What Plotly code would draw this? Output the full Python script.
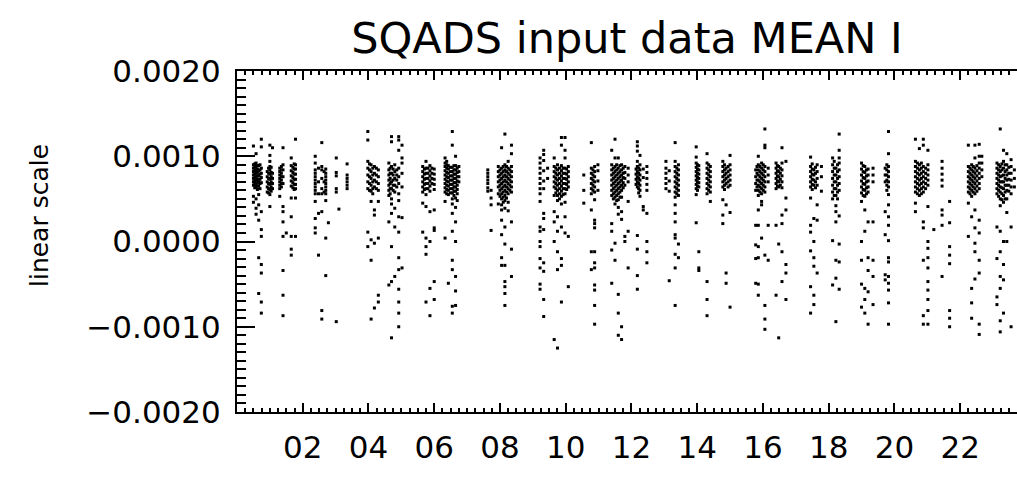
import plotly.graph_objects as go

# SQADS MEAN I, values in units of 1e-4, grouped in vertical strips (hour, values)
strips_00_04 = [
    (0.50, [11.2, 9.0, 8.6, 8.2, 7.8, 7.4, 7.0, 6.6, 5.3, 4.6]),
    (0.54, [9.1, 8.7, 8.3, 7.9, 7.5, 7.1, 6.7, 6.3]),
    (0.58, [10.3, 9.2, 8.8, 8.4, 8.0, 7.6, 7.2, 6.8, 6.4, 5.0, 3.9, 3.2]),
    (0.62, [8.9, 8.5, 8.1, 7.7, 7.3, 6.9, 6.5, 6.1]),
    (0.66, [8.9, 8.3, 7.7, 7.1, 6.5, 5.5, 4.3, 2.5, -1.9, -6.1]),
    (0.70, [9.0, 8.4, 7.9, 7.3, 6.8, 6.2]),
    (0.74, [12.0, 11.1, 8.6, 8.0, 7.5, 6.9, 3.5, 1.4, 0.6, -2.7, -3.7, -7.1, -8.4]),
    (0.92, [8.2, 7.6, 7.0, 6.4, 5.8]),
    (0.96, [8.6, 8.0, 7.4, 6.8, 6.2, 5.7]),
    (1.00, [11.3, 10.1, 9.4, 8.8, 8.4, 7.9, 7.3, 6.7, 6.1, 5.5, 4.1]),
    (1.04, [8.7, 8.1, 7.6, 7.0, 6.4, 5.9]),
    (1.08, [11.0, 8.0, 7.4, 6.8, 6.2]),
    (1.30, [8.6, 8.2, 7.8, 7.4, 7.0, 6.6, 6.2, 5.3]),
    (1.35, [8.8, 8.4, 8.0, 7.6, 7.2, 6.8, 6.4]),
    (1.40, [11.0, 9.0, 8.4, 7.6, 6.8, 4.1, 3.5, 2.3, 0.6, -3.4, -6.3, -8.7]),
    (1.50, [1.0]),
    (1.65, [9.8, 8.9, 8.3, 7.7, 7.1, 6.5, 5.1, 2.9, 0.6, -0.9, -1.6]),
    (1.70, [8.7, 8.1, 7.5, 6.9, 6.3]),
    (1.74, [9.1, 8.5, 7.9, 7.3, 6.7, 6.1]),
    (1.78, [12.0, 9.0, 8.5, 7.9, 7.3, 6.7, 6.2, 5.1, 0.6]),
    (2.38, [10.0, 9.2, 8.4, 8.0, 7.6, 7.2, 6.8, 6.4, 6.0, 5.6, 4.7, 2.7, 1.6, 1.0]),
    (2.48, [8.6, 7.0, 5.6, 3.3, -1.6]),
    (2.58, [11.6, 8.8, 8.4, 7.4, 6.2, 5.6, 3.5, -8.1, -9.1]),
    (2.65, [8.2, 7.0, 5.8]),
    (2.70, [8.5, 8.0, 7.6, 7.2, 6.8, 6.4, 6.0, 5.6, 4.8, 0.4, -4.0]),
    (2.78, [2.2]),
    (3.02, [9.8, 8.1, 7.7, 6.2, 5.8, -9.4]),
    (3.10, [3.8]),
    (3.35, [9.1, 7.8, 7.4, 7.0, 6.6, 6.2]),
    (3.98, [12.9, 11.9, 9.4, 8.6, 7.8, 7.0, 6.2, 1.1, -0.6]),
]

strips_04_08 = [
    (4.03, [9.1, 8.4, 7.6, 6.8, 6.0]),
    (4.08, [9.0, 8.2, 7.4, 6.6, 5.9, 4.7, 0.2, -2.2, -9.1]),
    (4.13, [8.6, 7.8, 7.0, 6.2, 5.6]),
    (4.18, [8.8, 8.0, 7.2, 6.4, 3.7, 3.1, -0.2, -7.8]),
    (4.24, [8.6, 7.8, 7.0, 6.2]),
    (4.30, [8.4, 7.6, 6.8, 6.0, 4.7, 0.4, -6.3, -7.1]),
    (4.62, [9.2, 8.4, 7.8, 7.2, 6.6, 6.0, 5.4, 2.3, -5.1]),
    (4.66, [8.6, 8.0, 7.4, 6.8, 6.2, 5.6]),
    (4.70, [12.3, 11.7, 8.8, 8.0, 7.0, 6.2, 5.0, 4.4, 3.3, -0.6, -4.7, -11.3]),
    (4.75, [8.5, 7.8, 7.2, 6.6, 6.0]),
    (4.80, [9.0, 8.2, 7.4, 6.6, 5.8, 3.9, 1.7, -4.1]),
    (4.86, [8.4, 7.8, 7.2, 6.4]),
    (4.92, [12.3, 11.9, 10.7, 8.6, 7.6, 6.8, 5.6, 4.8, 2.9, 1.1, -1.9, -3.3, -5.6, -7.1, -8.4, -10.0]),
    (5.02, [11.3, 9.8, 9.2, 8.0, 6.4, 2.8, -3.1]),
    (5.65, [8.8, 8.2, 7.6, 7.0, 6.4, 5.8, 4.5, 1.1]),
    (5.70, [8.5, 7.9, 7.3, 6.7, 6.1]),
    (5.75, [9.4, 8.6, 8.0, 7.4, 6.8, 6.2, 5.5, 4.1, 0.4, -0.6, -1.5, -7.1]),
    (5.81, [8.6, 8.0, 7.4, 6.8, 6.2]),
    (5.87, [8.9, 8.3, 7.7, 7.1, 6.5, 5.9, 3.5, 0.0, -5.5, -8.7]),
    (5.93, [8.6, 8.0, 7.4, 6.8]),
    (6.00, [8.5, 7.9, 7.3, 6.7, 6.1, 3.7, 1.6, 1.3, -4.7, -6.8]),
    (6.33, [9.8, 9.2, 8.8, 8.3, 7.8, 7.3, 6.8, 6.3, 5.8, 4.7, 0.4]),
    (6.38, [9.4, 9.0, 8.6, 8.1, 7.6, 7.1, 6.6, 6.1, 5.6]),
    (6.43, [8.9, 8.5, 8.0, 7.5, 7.0, 6.5, 6.0, 5.5, -4.9]),
    (6.49, [8.7, 8.2, 7.7, 7.2, 6.7, 6.2, 5.7]),
    (6.55, [12.9, 11.3, 8.7, 8.2, 7.7, 7.2, 6.7, 6.2, 5.7, 5.0, 4.4, 3.3, 1.2, -2.2, -3.3, -7.6, -8.4]),
    (6.60, [8.9, 8.4, 7.9, 7.4, 6.9, 6.4, 5.9, 5.4]),
    (6.65, [10.0, 8.9, 8.4, 7.9, 7.4, 6.9, 6.4, 5.9, 5.1, 4.0, 2.3, 0.0, -4.1, -5.8, -7.5]),
    (6.70, [8.6, 8.1, 7.6, 7.1, 6.6, 6.1, 5.6, 4.8]),
    (6.75, [8.8, 8.2, 7.6, 7.0]),
    (7.63, [8.4, 8.0, 7.6, 7.2, 6.8, 6.3, 5.9]),
    (7.73, [6.0, 5.1, 4.3, 1.3]),
    (7.95, [8.8, 8.2, 7.6, 7.0, 6.4, 5.6, 4.4]),
]

strips_08_12 = [
    (8.00, [8.4, 7.8, 7.2, 6.6, 6.0, 5.3]),
    (8.05, [11.0, 8.6, 8.0, 7.4, 6.8, 6.2, 5.6, 5.0, 4.3, 3.7, 2.5, 0.8, -1.9, -2.8]),
    (8.10, [8.8, 8.2, 7.6, 7.0, 6.4, 5.8, 5.2, 4.6]),
    (8.15, [12.6, 9.0, 8.4, 7.8, 7.2, 6.6, 6.0, 5.4, 4.8, 3.9, 1.7, -0.3, -2.8, -4.7, -5.3, -6.1, -7.5]),
    (8.20, [8.8, 8.2, 7.6, 7.0, 6.4, 5.8, 5.1]),
    (8.25, [9.4, 8.6, 8.0, 7.4, 6.8, 6.2, 5.6, 4.6, 3.6]),
    (8.30, [8.4, 7.8, 7.2, 6.6, 6.0]),
    (8.35, [11.3, 10.3, 8.8, 8.2, 7.6, 7.0, 6.4, 5.8, 2.3, -0.9, -4.1]),
    (9.22, [9.8, 9.2, 8.6, 8.0, 7.4, 6.8, 6.2, 5.6, 4.7, 1.7, 1.2, 0.0, -0.6, -2.0, -3.1, -5.0, -5.6]),
    (9.33, [10.7, 10.2, 9.5, 8.3, 7.1, 6.2, 3.3, 2.7, 1.4, -2.5, -3.5, -6.8, -8.8]),
    (9.45, [8.6, 7.4]),
    (9.65, [9.8, 8.8, 8.2, 7.6, 7.0, 6.4, 5.4, 3.5, 2.3, 0.0, -11.5]),
    (9.70, [8.6, 8.0, 7.4, 6.8, 6.2, 5.7]),
    (9.75, [9.0, 8.4, 7.8, 7.2, 6.6, 6.0, 5.4, 4.8, 2.9, 1.2, -1.2, -3.3, -12.5]),
    (9.81, [8.6, 8.0, 7.4, 6.8, 6.2, 5.6, 5.0]),
    (9.87, [12.2, 11.3, 8.9, 8.3, 7.7, 7.1, 6.5, 5.9, 5.3, 4.4, 1.7, -2.0, -2.8, -7.1]),
    (9.92, [8.6, 8.0, 7.4, 6.8, 6.2, 5.5]),
    (9.98, [12.2, 10.7, 9.8, 8.6, 8.0, 7.4, 6.8, 6.2, 5.6, 4.6, 2.9, 1.0]),
    (10.03, [8.5, 7.9, 7.3, 6.7, 6.1]),
    (10.08, [8.8, 8.2, 7.6, 7.0, 6.4, 0.6, -5.3]),
    (10.55, [7.8, 6.0, 4.5]),
    (10.78, [11.6, 8.6, 8.0, 7.4, 6.8, 6.2, 5.6, 3.7, -1.2, -3.3]),
    (10.83, [8.4, 7.8, 7.2, 6.6, 6.0]),
    (10.88, [8.8, 8.2, 7.6, 7.0, 6.4, 5.8, 4.9, 2.5, 2.1, 1.6, -1.2, -2.5, -3.1, -5.1, -5.7, -7.5, -9.7]),
    (10.98, [9.0, 8.3, 7.1, 6.0]),
    (11.40, [10.7, 9.0, 8.4, 7.8, 7.2, 6.6, 6.0, 5.4, 2.1, 1.2, -1.0, -4.9]),
    (11.45, [8.6, 8.0, 7.4, 6.8, 6.2, 5.6, 5.0]),
    (11.50, [12.0, 9.8, 8.8, 8.2, 7.6, 7.0, 6.4, 5.8, 5.2, 4.4, -0.2, -2.2]),
    (11.55, [9.0, 8.4, 7.8, 7.2, 6.6, 6.0, 5.4, 4.8]),
    (11.60, [9.8, 8.6, 8.0, 7.4, 6.8, 6.2, 5.6, 4.9, 4.0, 3.2, -6.2, -8.4, -11.0]),
    (11.65, [8.9, 8.2, 7.6, 7.0, 6.4, 5.8, 5.2]),
    (11.70, [9.0, 8.4, 7.8, 7.2, 6.6, 6.0, 5.2, 3.5, 2.6, -10.0, -11.5]),
    (11.75, [8.6, 8.0, 7.5, 6.9, 6.3]),
    (11.80, [8.8, 8.1, 7.4, 6.6, 0.0, 0.6]),
    (11.90, [8.6, 7.8, 7.0, 4.7, 1.2, -3.1]),
]

strips_12_16 = [
    (12.14, [8.5, 7.9, 7.3, 6.7]),
    (12.18, [11.7, 11.2, 10.6, 9.4, 8.8, 8.2, 7.6, 7.0, 6.4, 0.7, -0.9, -4.0, -5.6]),
    (12.22, [8.6, 8.0, 7.4, 6.8, 6.2, 5.7]),
    (12.26, [10.1, 9.0, 8.4, 7.8, 7.2, 6.6, 6.0, 5.3]),
    (12.36, [8.5, 7.5, 4.1, 3.7]),
    (12.47, [8.8, 8.1, 7.4, 6.7, 6.0, 3.3, 0.0, -1.2, -2.5]),
    (13.05, [9.4, 8.6, 8.0, 7.4, 6.8, 6.2]),
    (13.15, [8.3, 7.1, 5.9, -4.6]),
    (13.33, [11.6, 9.4, 8.8, 8.2, 7.6, 7.0, 6.4, 5.8, 5.2, 4.3, 3.3, 2.3, 0.8, 0.4, -1.5, -3.1, -7.5]),
    (13.38, [8.6, 8.0, 7.4, 6.8, 6.2, 5.6]),
    (13.43, [9.0, 8.4, 7.8, 7.2, 6.6, 6.0, 5.4, -0.3, -1.9]),
    (13.97, [11.1, 9.9, 9.2, 8.7, 8.2, 7.7, 7.2, 6.7, 6.2, 5.5, 2.2]),
    (14.01, [9.0, 8.5, 8.0, 7.5, 7.0, 6.5, 6.0]),
    (14.05, [8.9, 8.4, 7.9, 7.4, 6.9, 6.4, -1.2, -3.1, -3.4]),
    (14.30, [10.3, 9.2, 8.6, 8.0, 7.4, 6.8, 6.2, 5.6, -4.7, -6.8, -8.7]),
    (14.35, [9.0, 8.4, 7.8, 7.2, 6.6, 6.0]),
    (14.40, [8.8, 8.2, 7.6, 7.0, 6.4, 5.8, 4.7]),
    (14.78, [9.4, 8.8, 8.2, 7.6, 7.0, 6.4, 4.9, 3.1, 2.1]),
    (14.83, [9.0, 8.4, 7.8, 7.2, 6.6, 6.1]),
    (14.88, [8.6, 8.0, 7.4, 6.8, 4.3, -3.7, -4.9]),
    (14.94, [8.8, 8.2, 7.6, 7.0, 6.4]),
    (15.00, [10.1, 9.0, 8.4, 7.8, 7.2, 6.6, 3.4, -7.7]),
    (15.78, [8.4, 7.6, 6.8, 6.0, 1.9, -0.4, -2.0, -4.9]),
    (15.82, [8.8, 8.0, 7.2, 6.4]),
    (15.86, [10.0, 9.0, 8.4, 7.8, 7.2, 6.6, 6.0, 5.4, 3.7, 1.9, -0.6, -1.9, -5.0, -6.3]),
    (15.91, [8.8, 8.2, 7.6, 7.0, 6.4, 5.8]),
    (15.96, [9.2, 8.6, 8.0, 7.4, 6.8, 6.2, 5.6, 4.7, 4.3, 0.4]),
]

strips_16_20 = [
    (16.01, [9.0, 8.4, 7.8, 7.2, 6.6, 6.0]),
    (16.06, [13.2, 11.3, 11.0, 8.8, 8.2, 7.6, 7.0, 6.4, 5.8, -1.6, -7.5, -9.1, -10.3]),
    (16.16, [8.6, 7.8, 7.0, 1.9, -2.2]),
    (16.40, [9.2, 8.6, 8.0, 7.4, 6.8, 6.2, 1.9, -6.3]),
    (16.44, [8.9, 8.3, 7.7, 7.1, 6.5]),
    (16.48, [8.8, 8.2, 7.6, 7.0, 6.4, -0.3, -11.3]),
    (16.53, [8.6, 8.0, 7.3, 6.6]),
    (16.58, [11.0, 9.2, 8.4, 7.7, 7.0, 6.3, 3.1, 2.1, -1.2, -4.7]),
    (16.70, [9.4, 5.1, 3.7, -2.7, -3.7, -6.8]),
    (17.45, [9.9, 8.8, 8.2, 7.6, 7.0, 6.4, 5.1, 1.9, 1.1, -1.1, -5.3, -8.4]),
    (17.50, [9.1, 8.5, 7.9, 7.3, 6.7, 6.1]),
    (17.55, [8.4, 7.8, 7.2, 6.6, 2.7, 0.0, -1.9, -2.9, -6.3, -7.4]),
    (17.60, [8.7, 8.0, 7.0, 6.3]),
    (17.65, [9.0, 8.2, 7.4, 6.6, 4.3, 2.5, -3.7]),
    (17.78, [8.8, 7.6, 5.9]),
    (18.12, [9.8, 9.0, 8.2, 7.4, 6.6, 5.8, 5.0, 0.1, -5.1]),
    (18.17, [9.4, 8.6, 7.8, 7.0, 6.2, 5.4]),
    (18.22, [8.6, 7.8, 7.0, 6.2, 5.4, 4.2, 3.5, 2.3, -2.2, -4.3, -9.4]),
    (18.27, [9.0, 8.2, 7.4, 6.6, 5.8, 5.0]),
    (18.32, [12.6, 10.7, 9.8, 9.2, 8.4, 7.6, 6.8, 6.0, 3.0, -0.3, -2.4, -5.6]),
    (19.00, [9.2, 8.5, 7.8, 7.1, 6.4, 5.7, 4.7, 0.0, -2.2, -5.0, -7.7]),
    (19.05, [8.9, 8.2, 7.5, 6.8, 6.1, 5.4]),
    (19.10, [8.8, 8.1, 7.4, 6.7, 6.0, 5.3, 3.7, 1.2, -5.5, -6.8, -8.4]),
    (19.15, [8.4, 7.7, 7.0, 6.3, 5.6]),
    (19.20, [8.5, 7.8, 7.1, 6.4, 5.8, 2.3, -1.9, -3.4, -5.9, -9.7]),
    (19.35, [8.6, 7.8, 7.0, 2.3, -2.2, -4.1, -7.4]),
    (19.72, [8.6, 7.8, 7.0, 3.5, 0.8, -3.9, -4.5]),
    (19.77, [9.0, 8.4, 7.8, 7.2, 6.6, 6.0]),
    (19.82, [12.9, 10.3, 8.8, 8.2, 7.6, 7.0, 6.4, 5.5, 4.3, 2.9, 1.9, 0.1, -1.9, -2.4, -4.1, -4.9, -5.7, -7.2, -9.7]),
]

strips_20_24 = [
    (20.64, [12.0, 9.4, 8.8, 8.2, 7.6, 7.0, 6.4, 5.8, 4.5, 3.5]),
    (20.70, [9.2, 8.6, 8.0, 7.4, 6.8, 6.2, 5.6]),
    (20.76, [10.9, 9.0, 8.4, 7.8, 7.2, 6.6, 6.0, 5.4]),
    (20.82, [9.2, 8.6, 8.0, 7.4, 6.8, 6.2, 5.6]),
    (20.88, [12.0, 11.3, 8.8, 8.2, 7.6, 7.0, 6.4, 5.8, 2.3, 1.6, -2.2, -8.7, -9.7]),
    (20.95, [8.6, 8.0, 7.4, 6.8, 6.2]),
    (21.02, [10.7, 9.0, 8.4, 7.8, 7.2, 6.6, 4.1, 0.0, -0.8, -1.9, -3.1, -4.7, -5.7, -6.8, -8.1, -9.7]),
    (21.20, [1.4]),
    (21.45, [9.4, 8.6, 7.9, 7.2, 6.5, 3.7, 3.1, 1.9, -4.1]),
    (21.68, [4.7, 2.2, -0.6, -1.6, -2.6, -8.1, -9.0, -10.0]),
    (22.25, [11.3, 8.8, 8.2, 7.6, 7.0, 6.4, 5.8, 4.5, 0.6]),
    (22.30, [8.6, 8.0, 7.4, 6.8, 6.2, 5.6]),
    (22.35, [9.0, 8.4, 7.8, 7.2, 6.6, 6.0, 5.3, 2.9, -5.5, -7.2, -9.0]),
    (22.40, [8.8, 8.2, 7.6, 7.0, 6.4, 5.8]),
    (22.45, [11.3, 9.8, 8.6, 8.0, 7.4, 6.8, 6.2, 5.6, 3.7, 1.6, -0.2, -1.2, -4.4]),
    (22.51, [8.9, 8.3, 7.7, 7.1, 6.5, 5.9]),
    (22.58, [11.4, 10.0, 9.2, 8.6, 8.0, 7.4, 6.8, 6.2, 2.5, 1.0, -2.2, -3.7, -9.7, -10.9]),
    (22.66, [10.0, 9.2, 8.4, 7.6]),
    (23.12, [9.2, 8.6, 8.0, 7.4, 6.8, 6.2, 5.6, 1.7, -2.0, -6.5, -7.4]),
    (23.17, [9.0, 8.4, 7.8, 7.2, 6.6, 6.0, 5.3]),
    (23.22, [13.2, 8.8, 8.2, 7.6, 7.0, 6.4, 5.8, 5.0, 4.2, 1.2, -1.2, -4.1, -5.5, -9.3, -10.6]),
    (23.27, [9.1, 8.4, 7.7, 7.0, 6.3, 5.6, 4.9]),
    (23.32, [10.7, 9.4, 8.6, 7.8, 7.0, 6.2, 5.4, 4.6, 0.0, -2.7, -4.5, -8.4]),
    (23.37, [9.0, 8.2, 7.4, 6.6, 5.8, 5.0]),
    (23.42, [10.3, 9.0, 8.4, 7.8, 7.2, 6.6, 6.0, 5.0, 3.4, 0.0]),
    (23.48, [8.7, 8.0, 7.3, 6.6, 5.9]),
    (23.55, [9.6, 8.8, 8.0, 7.2, 6.4, 5.6, 1.7, -10.0]),
    (23.65, [8.4, 7.4, 6.4]),
]

y_ticks = [-0.002, -0.001, 0.0, 0.001, 0.002]
y_labels = ["\u22120.0020", "\u22120.0010", "0.0000", "0.0010", "0.0020"]
x_ticks = [2, 4, 6, 8, 10, 12, 14, 16, 18, 20, 22]
x_labels = ["02", "04", "06", "08", "10", "12", "14", "16", "18", "20", "22"]

hours, mean_i = [], []
for block in [strips_00_04, strips_04_08, strips_08_12, strips_12_16, strips_16_20, strips_20_24]:
    for h, vals in block:
        for v in vals:
            hours.append(h)
            mean_i.append(v * 1e-4)

fig = go.Figure()
fig.add_trace(go.Scatter(x=hours, y=mean_i, mode="markers",
                         marker=dict(symbol="square", size=3, color="black", line=dict(width=0))))

font = "DejaVu Sans"
fig.update_layout(
    width=1017, height=478,
    margin=dict(l=237, r=0, t=71, b=66),
    plot_bgcolor="white", paper_bgcolor="white",
    showlegend=False,
    font=dict(family=font, color="black"),
    title=dict(text="SQADS input data MEAN I", x=627 / 1017, xanchor="center",
               y=1 - 38 / 478, yanchor="middle", font=dict(size=43, family=font)),
)

fig.update_xaxes(
    range=[0, 23.73], showgrid=False, zeroline=False,
    showline=True, linecolor="black", linewidth=2, mirror="ticks",
    ticks="inside", ticklen=9, tickwidth=2, tickcolor="black",
    tickmode="array", tickvals=x_ticks, ticktext=x_labels,
    tickfont=dict(size=31), ticklabelstandoff=7,
    minor=dict(ticks="inside", ticklen=4, tickwidth=1.5, tickcolor="black",
               tick0=0, dtick=0.25, showgrid=False),
)
fig.update_yaxes(
    range=[-0.002, 0.002], showgrid=False, zeroline=False,
    showline=True, linecolor="black", linewidth=2, mirror=False,
    ticks="inside", ticklen=18, tickwidth=2, tickcolor="black",
    tickmode="array", tickvals=y_ticks, ticktext=y_labels,
    tickfont=dict(size=31), ticklabelstandoff=8,
    minor=dict(ticks="inside", ticklen=9, tickwidth=1.5, tickcolor="black",
               tick0=0, dtick=0.0001, showgrid=False),
)

fig.add_annotation(text="linear scale", textangle=-90, showarrow=False,
                   xref="paper", yref="paper", x=(40 - 237) / 780, y=(412 - 216) / 341,
                   xanchor="center", yanchor="middle", font=dict(size=25, family=font))

# the page body has a default 8px margin; drop it so the figure sits at (0, 0)
fig.write_html("out.html", config={"displayModeBar": False},
               post_script="document.body.style.margin='0';")
